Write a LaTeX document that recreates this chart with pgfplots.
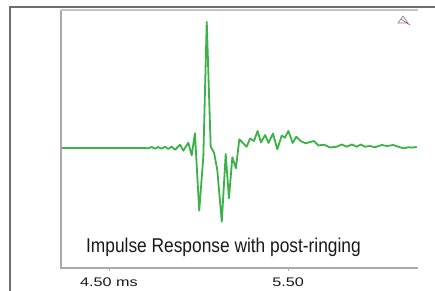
\documentclass[border=0pt]{standalone}
\usepackage{pgfplots}
\pgfplotsset{compat=1.18}
\usepackage{fontspec}
\setmainfont{Liberation Sans}
\definecolor{irgreen}{RGB}{58,178,72}
\definecolor{framegray}{RGB}{110,110,110}
\definecolor{axgray}{RGB}{170,170,170}
\begin{document}
\begin{tikzpicture}
\useasboundingbox (0,0) rectangle (435bp,291bp);
\fill[white] (0,0) rectangle (435bp,291bp);
% outer frame
\draw[framegray, line width=1.6bp] (10bp,0) -- (10bp,284bp) -- (435bp,284bp);
\begin{axis}[
  at={(61bp,23bp)}, anchor=south west,
  width=357bp, height=258bp, scale only axis,
  xmin=4.232, xmax=6.226, ymin=-120, ymax=138,
  axis line style={draw=none},
  ytick=\empty,
  xtick={4.5,5.5}, xticklabels={4.50 ms,5.50},
  xtick pos=bottom, tick align=outside,
  major tick length=3bp,
  x tick style={axgray, line width=0.8bp},
  xticklabel style={font=\fontsize{12.5}{14}\selectfont, text=black!90, xscale=1.3, yshift=-3bp},
  clip=false,
]
\addplot[irgreen, line width=1.8bp, line join=round] coordinates {
(4.232,0) (4.692,0) (4.720,-0.3) (4.739,1) (4.757,-0.7) (4.775,1)
(4.794,-0.7) (4.813,1.3) (4.831,-1) (4.850,1.3) (4.869,-1.7)
(4.897,3.3) (4.915,-2.7) (4.943,5.3) (4.962,-7.3) (4.980,14.7)
(5.004,-62.7) (5.027,-8.7) (5.046,126.3) (5.068,1.3) (5.087,-4.7)
(5.105,-22) (5.130,-73.7) (5.152,-6) (5.170,-50.3) (5.189,-9.3)
(5.209,-20.3) (5.228,8.7) (5.250,4.7) (5.269,1.3) (5.288,9.5)
(5.310,7) (5.330,17) (5.349,5.5) (5.372,13) (5.391,5) (5.416,14.5)
(5.440,-1.3) (5.465,12.5) (5.483,10.3) (5.502,17) (5.526,5)
(5.546,11.3) (5.570,7) (5.598,4.7) (5.645,7) (5.669,2.5) (5.701,3.3)
(5.735,0.5) (5.772,1.3) (5.800,3.5) (5.828,1.3) (5.856,3.5)
(5.884,1.3) (5.906,3.5) (5.930,1.3) (5.958,2) (5.986,0.7)
(6.023,3) (6.053,2) (6.088,3) (6.116,1.3) (6.144,-0.3) (6.172,0.7)
(6.193,0.5) (6.219,1)
};
\draw[axgray, line width=1.2bp] (rel axis cs:0,1) -- (rel axis cs:0,0) -- (rel axis cs:1,0);
\draw[axgray!70, line width=1.2bp] (rel axis cs:0,1) -- (rel axis cs:1,1);
\end{axis}
% title text
\node[anchor=base west, inner sep=0pt, xscale=0.87, font=\fontsize{20}{24}\selectfont, text=black!90] at (86bp,39bp) {Impulse Response with post-ringing};
% small triangle icon
\draw[gray, line width=0.6bp] (398bp,268bp) -- (403bp,275bp) -- (408bp,268bp) -- cycle;
\draw[magenta!70!black, line width=0.6bp] (401bp,272bp) -- (410bp,266bp);
\end{tikzpicture}
\end{document}
